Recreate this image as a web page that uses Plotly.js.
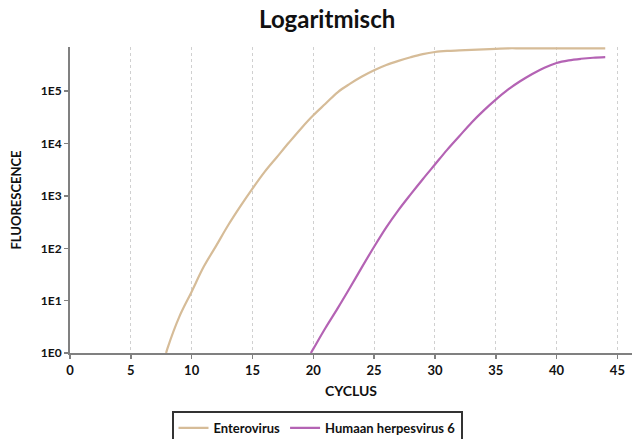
<!DOCTYPE html>
<html>
<head>
<meta charset="utf-8">
<script src="https://cdn.plot.ly/plotly-3.0.1.min.js"></script>
<style>
  html, body { margin: 0; padding: 0; background: #fff; }
  #chart { width: 634px; height: 439px; }
</style>
</head>
<body>
<div id="chart"></div>
<script>
// Enterovirus: cycle and fluorescence
const enteroCycles = [7.9, 8, 9, 10, 11, 12, 13, 14, 15, 16, 17, 18, 19, 20, 21, 22, 23, 24, 25, 26, 27, 28, 29, 30, 31, 32, 33, 34, 35, 36, 37, 38, 39, 40, 41, 42, 43, 44];
const enteroValues = [1, 1.2, 5.0, 14.8, 44.7, 110, 275, 631, 1380, 2884, 5495, 10470, 19500, 34670, 57540, 95500, 138000, 190500, 251200, 316200, 380200, 446700, 512900, 562300, 588800, 602600, 616600, 631000, 645700, 660700, 660700, 660700, 660700, 660700, 660700, 660700, 660700, 660700];

// Humaan herpesvirus 6: cycle and fluorescence
const hhvCycles = [19.8, 20, 21, 22, 23, 24, 25, 26, 27, 28, 29, 30, 31, 32, 33, 34, 35, 36, 37, 38, 39, 40, 41, 42, 43, 44];
const hhvValues = [1, 1.2, 3.0, 7.1, 17.4, 43.7, 107, 251, 537, 1072, 2089, 3981, 7586, 13800, 25120, 42660, 69180, 107200, 154900, 213800, 281800, 346700, 389000, 416900, 436500, 446700];

const seriesNames = ["Enterovirus", "Humaan herpesvirus 6"];
const xTickVals = [0, 5, 10, 15, 20, 25, 30, 35, 40, 45];
const yTickVals = [1, 10, 100, 1000, 10000, 100000];
const yTickText = ["1E0", "1E1", "1E2", "1E3", "1E4", "1E5"];

const FONT = "Lato, 'Open Sans', sans-serif";

const traces = [
  { x: enteroCycles, y: enteroValues, name: seriesNames[0], type: "scatter", mode: "lines",
    line: { color: "#d6bc98", width: 2.2, shape: "spline", smoothing: 1 }, cliponaxis: true },
  { x: hhvCycles, y: hhvValues, name: seriesNames[1], type: "scatter", mode: "lines",
    line: { color: "#b463b4", width: 2.2, shape: "spline", smoothing: 1 }, cliponaxis: true }
];

const layout = {
  width: 634, height: 439,
  margin: { l: 70, r: 2, t: 47, b: 86, pad: 0 },
  paper_bgcolor: "#fff", plot_bgcolor: "#fff",
  font: { family: FONT, color: "#111", size: 12 },
  title: { text: "<b>Logaritmisch</b>", font: { family: FONT, size: 24, color: "#111" },
           xref: "container", x: 0.516, xanchor: "center", yref: "container", y: 0.955, yanchor: "middle" },
  xaxis: {
    range: [0, 46.2], tickvals: xTickVals, ticktext: xTickVals.map(String),
    showgrid: true, gridcolor: "#d0d0d0", griddash: "dot", gridwidth: 1,
    showline: true, linecolor: "#808080", linewidth: 2,
    ticks: "outside", ticklen: 4, tickcolor: "#808080", tickwidth: 1.5,
    tickfont: { family: FONT, size: 13, color: "#111", weight: "bold" },
    zeroline: false,
    title: { text: "<b>CYCLUS</b>", font: { family: FONT, size: 14, color: "#111" }, standoff: 10 }
  },
  yaxis: {
    type: "log", range: [0, 5.845], tickvals: yTickVals, ticktext: yTickText,
    showgrid: false,
    showline: true, linecolor: "#808080", linewidth: 2,
    ticks: "outside", ticklen: 4, tickcolor: "#808080", tickwidth: 1.5,
    tickfont: { family: FONT, size: 12, color: "#111", weight: "bold" },
    zeroline: false,
    title: { text: "<b>FLUORESCENCE</b>", font: { family: FONT, size: 13, color: "#111" }, standoff: 16 }
  },
  showlegend: true,
  legend: {
    orientation: "h", xref: "container", yref: "container",
    x: 0.5, xanchor: "center", y: 0.064, yanchor: "top",
    bordercolor: "#333", borderwidth: 2, bgcolor: "#fff",
    font: { family: FONT, size: 13, color: "#111", weight: "bold" },
    itemwidth: 30, tracegroupgap: 0
  }
};

Plotly.newPlot("chart", traces, layout, { displayModeBar: false, staticPlot: true });
</script>
</body>
</html>
